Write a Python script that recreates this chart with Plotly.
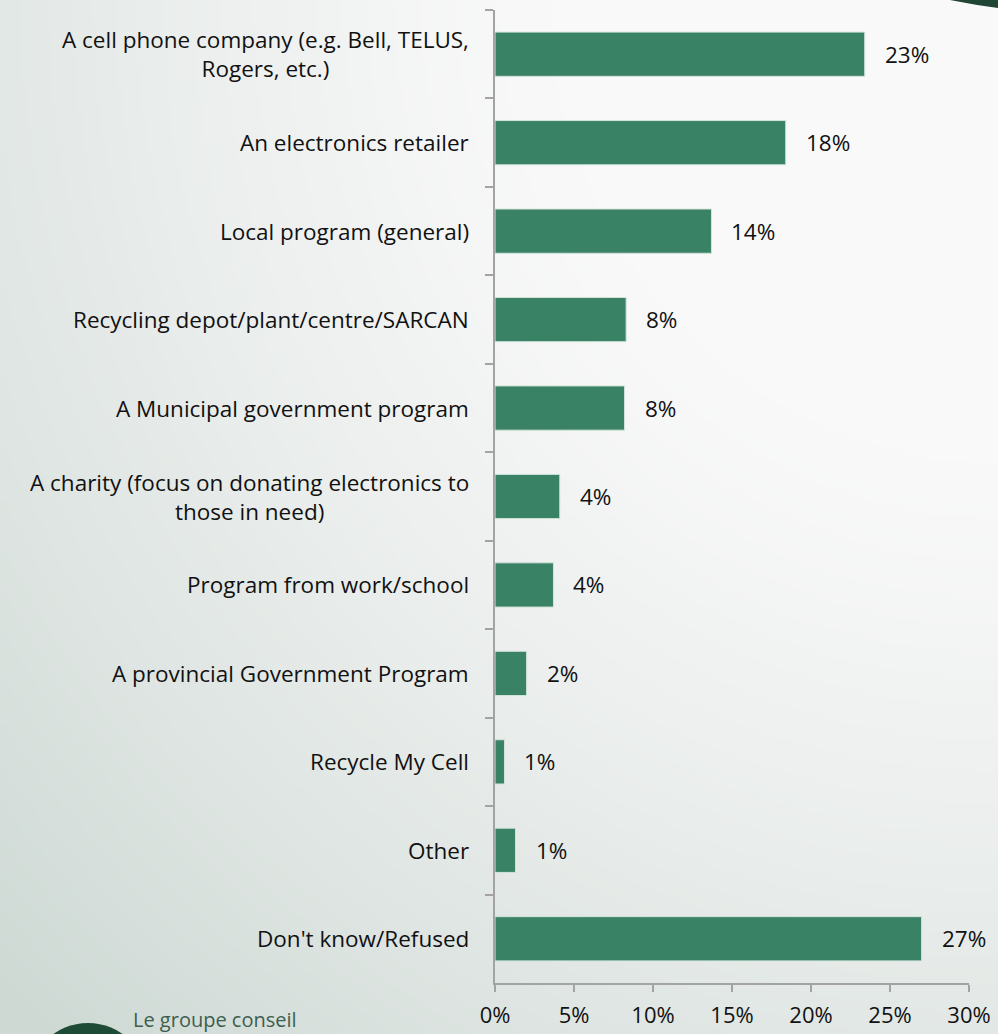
import base64
import struct
import zlib

import numpy as np
import plotly.graph_objects as go

# Survey responses: where respondents would take an old cell phone
categories = [
    "A cell phone company (e.g. Bell, TELUS,<br>Rogers, etc.)",
    "An electronics retailer",
    "Local program (general)",
    "Recycling depot/plant/centre/SARCAN",
    "A Municipal government program",
    "A charity (focus on donating electronics to<br>those in need)",
    "Program from work/school",
    "A provincial Government Program",
    "Recycle My Cell",
    "Other",
    "Don't know/Refused",
]
shares = [23.4, 18.4, 13.7, 8.3, 8.2, 4.1, 3.7, 2.0, 0.6, 1.3, 27.0]
x_ticks = [0, 5, 10, 15, 20, 25, 30]
x_tick_labels = ["0%", "5%", "10%", "15%", "20%", "25%", "30%"]

W, H = 998, 1034
M_L, M_R, M_T, M_B = 495, 29, 10, 51
PW, PH = W - M_L - M_R, H - M_T - M_B

BAR_COLOR = "#3a8265"
AXIS_COLOR = "#a3a3a3"
FONT = "Open Sans"
TEXT_SIZE = 22.5


def png_data_uri(rgb):
    """Encode an (h, w, 3) uint8 array as a PNG data URI."""
    h, w, _ = rgb.shape
    raw = b"".join(b"\x00" + rgb[r].tobytes() for r in range(h))

    def chunk(tag, data):
        c = struct.pack(">I", len(data)) + tag + data
        return c + struct.pack(">I", zlib.crc32(tag + data) & 0xFFFFFFFF)

    png = b"\x89PNG\r\n\x1a\n"
    png += chunk(b"IHDR", struct.pack(">IIBBBBB", w, h, 8, 2, 0, 0, 0))
    png += chunk(b"IDAT", zlib.compress(raw, 9))
    png += chunk(b"IEND", b"")
    return "data:image/png;base64," + base64.b64encode(png).decode()


# soft page background: light at the top right, grey-green toward the bottom left
gw, gh = 200, 208
u = np.linspace(0, 1, gw)[None, :]
v = np.linspace(0, 1, gh)[:, None]
d = np.sqrt((1 - u) ** 2 + v ** 2)
t = np.clip((d - 0.45) / 0.95, 0, 1) ** 1.2
light = np.array([249, 249, 249], dtype=float)
dark = np.array([206, 217, 212], dtype=float)
bg = (light[None, None, :] * (1 - t[..., None]) + dark[None, None, :] * t[..., None]).astype(np.uint8)
bg_uri = png_data_uri(bg)


def px_x(px):
    return (px - M_L) / PW


def px_y(py):
    return (M_T + PH - py) / PH


fig = go.Figure()
fig.add_trace(
    go.Bar(
        x=shares,
        y=categories,
        orientation="h",
        marker=dict(color=BAR_COLOR, line=dict(color="#d3e3db", width=1)),
        hoverinfo="x+y",
    )
)

annotations = []
for cat, val in zip(categories, shares):
    annotations.append(
        dict(
            x=0, y=cat, xref="paper", yref="y",
            text=cat, showarrow=False, xanchor="right", yanchor="middle",
            align="center", xshift=-24,
            font=dict(family=FONT, size=TEXT_SIZE, color="#111111"),
        )
    )
    annotations.append(
        dict(
            x=val, y=cat, xref="x", yref="y",
            text=f"{val:.0f}%", showarrow=False, xanchor="left", yanchor="middle",
            xshift=18,
            font=dict(family=FONT, size=TEXT_SIZE, color="#111111"),
        )
    )

annotations.append(
    dict(
        x=px_x(131), y=px_y(1004), xref="paper", yref="paper",
        text="Le groupe conseil", showarrow=False, xanchor="left", yanchor="top",
        font=dict(family=FONT, size=20, color="#3d5e4d"),
    )
)

shapes = [
    # logo disc at the bottom left
    dict(
        type="circle", xref="paper", yref="paper",
        x0=px_x(28), x1=px_x(148), y0=px_y(1143), y1=px_y(1023),
        fillcolor="#1e4b35", line=dict(width=0), layer="above",
    ),
    # dark swoosh in the top right corner
    dict(
        type="path", xref="paper", yref="paper",
        path=(
            f"M {px_x(950)} {px_y(0)} Q {px_x(975)} {px_y(5)} {px_x(998)} {px_y(8)} "
            f"L {px_x(998)} {px_y(0)} Z"
        ),
        fillcolor="#1f4534", line=dict(width=0), layer="above",
    ),
]

fig.update_layout(
    width=W, height=H,
    margin=dict(l=M_L, r=M_R, t=M_T, b=M_B, autoexpand=False),
    paper_bgcolor="#f6f7f6",
    plot_bgcolor="rgba(0,0,0,0)",
    showlegend=False,
    bargap=0.5,
    annotations=annotations,
    shapes=shapes,
    images=[
        dict(
            source=bg_uri, xref="paper", yref="paper",
            x=px_x(0), y=px_y(0), sizex=W / PW, sizey=H / PH,
            xanchor="left", yanchor="top", sizing="stretch", layer="below",
        )
    ],
    font=dict(family=FONT, size=TEXT_SIZE, color="#111111"),
)

fig.update_xaxes(
    range=[0, 30], tickvals=x_ticks, ticktext=x_tick_labels,
    showgrid=False, zeroline=False,
    showline=True, linecolor=AXIS_COLOR, linewidth=1.5,
    ticks="outside", ticklen=7, tickcolor=AXIS_COLOR, tickwidth=1.5,
    ticklabelstandoff=5, automargin=False,
    tickfont=dict(family=FONT, size=22, color="#111111"),
    fixedrange=True,
)
fig.update_yaxes(
    autorange="reversed", type="category",
    showticklabels=False, showgrid=False, zeroline=False,
    showline=True, linecolor=AXIS_COLOR, linewidth=1.5,
    ticks="outside", ticklen=8, tickcolor=AXIS_COLOR, tickwidth=1.5,
    tickson="boundaries", automargin=False,
    fixedrange=True,
)

fig.write_html("out.html")
